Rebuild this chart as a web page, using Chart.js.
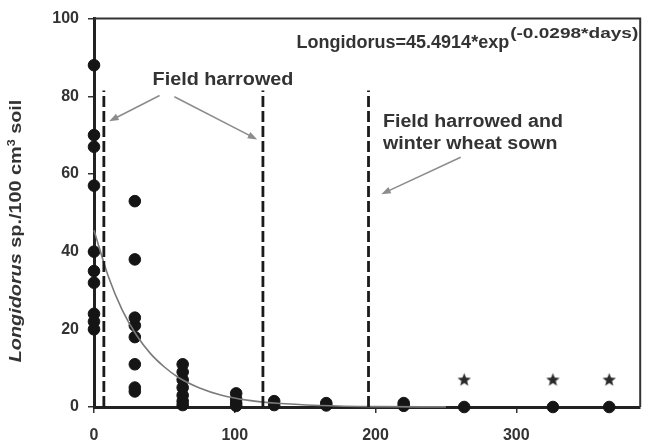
<!DOCTYPE html>
<html>
<head>
<meta charset="utf-8">
<script src="https://cdn.jsdelivr.net/npm/chart.js@4.4.1/dist/chart.umd.min.js"></script>
<style>
  html, body { margin: 0; padding: 0; background: #fff; }
  #caja { width: 647px; height: 445px; }
</style>
</head>
<body>
<div id="caja"><canvas id="grafico" width="647" height="445"></canvas></div>
<script>
// datos (dias despues del primer muestreo)
const diasPuntos = [0, 0, 0, 0, 0, 0, 0, 0, 0, 0,
    29, 29, 29, 29, 29, 29, 29, 29,
    63, 63, 63, 63, 63, 63, 63,
    101, 101, 101, 101,
    128, 128, 165, 165, 220, 220, 263, 326, 366];
const longidorus = [88, 70, 67, 57, 40, 35, 32, 24, 22, 20,
    53, 38, 23, 21, 18, 11, 5, 4,
    11, 9, 7, 5, 3, 1.5, 0.5,
    3.5, 2, 1, 0.3,
    1.5, 0.5, 1, 0.4, 1, 0.3, 0, 0, 0];

const diasEstrella = [263, 326, 366];
const alturaEstrella = [7, 7, 7];

const diasCurva = [0, 10, 20, 30, 40, 50, 60, 75, 90, 110, 130, 160, 200, 250];
const valoresCurva = [45.5, 33.8, 25, 18.6, 13.8, 10.3, 7.6, 4.9, 3.1, 1.7, 0.95, 0.4, 0.1, 0.03];

const diasLabranza = [7, 120, 195];
const alturaLabranza = 81.5;

const ticksX = [0, 100, 200, 300];
const ticksY = [0, 20, 40, 60, 80, 100];

const fuente = "'Liberation Sans', Arial, sans-serif";
const colorTexto = '#333';

// estrella rellena para los puntos marcados
function crearEstrella() {
    const c = document.createElement('canvas');
    c.width = 15; c.height = 15;
    const g = c.getContext('2d');
    g.fillStyle = '#2a2a2a';
    g.beginPath();
    for (let i = 0; i < 10; i++) {
        const r = i % 2 === 0 ? 7 : 3;
        const a = -Math.PI / 2 + i * Math.PI / 5;
        g.lineTo(7.5 + r * Math.cos(a), 7.8 + r * Math.sin(a));
    }
    g.closePath();
    g.fill();
    return c;
}

function dibujarPartes(ctx, partes, x, y, sx) {
    ctx.save();
    ctx.translate(x, y);
    ctx.scale(sx, 1);
    let pos = 0;
    partes.forEach(p => {
        ctx.font = p.font;
        ctx.fillText(p.t, pos, p.dy || 0);
        pos += ctx.measureText(p.t).width;
    });
    ctx.restore();
    return pos * sx;
}

function anchoPartes(ctx, partes) {
    let w = 0;
    partes.forEach(p => { ctx.font = p.font; w += ctx.measureText(p.t).width; });
    return w;
}

function flecha(ctx, x1, y1, x2, y2) {
    const ang = Math.atan2(y2 - y1, x2 - x1);
    ctx.save();
    ctx.strokeStyle = '#8c8c8c';
    ctx.fillStyle = '#8c8c8c';
    ctx.lineWidth = 1.6;
    ctx.beginPath();
    ctx.moveTo(x1, y1);
    ctx.lineTo(x2 - 6 * Math.cos(ang), y2 - 6 * Math.sin(ang));
    ctx.stroke();
    ctx.beginPath();
    ctx.moveTo(x2, y2);
    ctx.lineTo(x2 - 10 * Math.cos(ang - 0.35), y2 - 10 * Math.sin(ang - 0.35));
    ctx.lineTo(x2 - 10 * Math.cos(ang + 0.35), y2 - 10 * Math.sin(ang + 0.35));
    ctx.closePath();
    ctx.fill();
    ctx.restore();
}

const anotaciones = {
    id: 'anotaciones',
    afterDatasetsDraw(chart) {
        const ctx = chart.ctx;
        const a = chart.chartArea;
        const sx = chart.scales.x, sy = chart.scales.y;
        const px = v => sx.getPixelForValue(v);
        const py = v => sy.getPixelForValue(v);

        // marco superior y derecho
        ctx.save();
        ctx.strokeStyle = '#333';
        ctx.lineWidth = 2;
        ctx.beginPath();
        ctx.moveTo(a.left, a.top);
        ctx.lineTo(a.right, a.top);
        ctx.lineTo(a.right, a.bottom);
        ctx.stroke();
        ctx.restore();

        ctx.save();
        ctx.fillStyle = colorTexto;
        ctx.textBaseline = 'alphabetic';
        ctx.textAlign = 'left';

        const anchoEc = dibujarPartes(ctx, [{ t: 'Longidorus=45.4914*exp', font: 'bold 18px ' + fuente }],
            px(143.9), py(92.5), 1.0);
        dibujarPartes(ctx, [{ t: '(-0.0298*days)', font: 'bold 15px ' + fuente }],
            px(143.9) + anchoEc + 1, py(92.5) - 10, 1.27);

        dibujarPartes(ctx, [{ t: 'Field harrowed', font: 'bold 18px ' + fuente }], px(41.6), py(82.8), 1.1);
        dibujarPartes(ctx, [{ t: 'Field harrowed and', font: 'bold 18px ' + fuente }], px(205.3), py(72), 1.09);
        dibujarPartes(ctx, [{ t: 'winter wheat sown', font: 'bold 18px ' + fuente }], px(205.3), py(66.3), 1.09);

        // titulo del eje y
        const titulo = [
            { t: 'Longidorus', font: 'italic bold 16px ' + fuente },
            { t: ' sp./100 cm', font: 'bold 16px ' + fuente },
            { t: '3', font: 'bold 10px ' + fuente, dy: -6 },
            { t: ' soil', font: 'bold 16px ' + fuente }
        ];
        const esc = 1.24;
        const w = anchoPartes(ctx, titulo) * esc;
        ctx.save();
        ctx.translate(21, 231);
        ctx.rotate(-Math.PI / 2);
        dibujarPartes(ctx, titulo, -w / 2, 0, esc);
        ctx.restore();
        ctx.restore();

        flecha(ctx, px(46.6), py(80.2), px(10.8), py(73.6));
        flecha(ctx, px(57.1), py(79.9), px(115.9), py(68.9));
        flecha(ctx, px(260.5), py(64.3), px(204.1), py(54.8));
    }
};

const puntos = diasPuntos.map((d, i) => ({ x: d, y: longidorus[i] }));
const estrellas = diasEstrella.map((d, i) => ({ x: d, y: alturaEstrella[i] }));
const curva = diasCurva.map((d, i) => ({ x: d, y: valoresCurva[i] }));

const lineasLabranza = diasLabranza.map(d => ({
    type: 'line',
    data: [{ x: d, y: 0 }, { x: d, y: alturaLabranza }],
    borderColor: '#1a1a1a',
    borderWidth: 2.8,
    borderDash: [11, 4],
    pointRadius: 0,
    fill: false
}));

new Chart(document.getElementById('grafico').getContext('2d'), {
    type: 'scatter',
    data: {
        datasets: [
            ...lineasLabranza,
            {
                type: 'line',
                data: curva,
                borderColor: '#7a7a7a',
                borderWidth: 1.6,
                pointRadius: 0,
                tension: 0.4,
                cubicInterpolationMode: 'monotone',
                fill: false,
                clip: false
            },
            {
                data: puntos,
                backgroundColor: '#151515',
                borderColor: '#151515',
                pointRadius: 5.8,
                clip: false
            },
            {
                data: estrellas,
                pointStyle: crearEstrella(),
                clip: false
            }
        ]
    },
    options: {
        responsive: false,
        animation: false,
        layout: { padding: { top: 18, right: 3, left: 0, bottom: 0 } },
        plugins: { legend: { display: false }, tooltip: { enabled: false } },
        scales: {
            x: {
                type: 'linear',
                min: 0,
                max: 388,
                afterFit: s => { s.height = 38; },
                afterBuildTicks: s => { s.ticks = ticksX.map(v => ({ value: v })); },
                ticks: { color: colorTexto, font: { family: fuente, size: 16, weight: 'bold' }, padding: 13 },
                grid: { drawOnChartArea: false, drawTicks: true, tickLength: 6, color: '#333', lineWidth: 1.5 },
                border: { color: '#222', width: 3 }
            },
            y: {
                min: 0,
                max: 100,
                afterFit: s => { s.width = 94; },
                afterBuildTicks: s => { s.ticks = ticksY.map(v => ({ value: v })); },
                ticks: { color: colorTexto, font: { family: fuente, size: 16, weight: 'bold' }, padding: 9 },
                grid: { drawOnChartArea: false, drawTicks: true, tickLength: 6, color: '#333', lineWidth: 1.5 },
                border: { color: '#222', width: 3 }
            }
        }
    },
    plugins: [anotaciones]
});
</script>
</body>
</html>
